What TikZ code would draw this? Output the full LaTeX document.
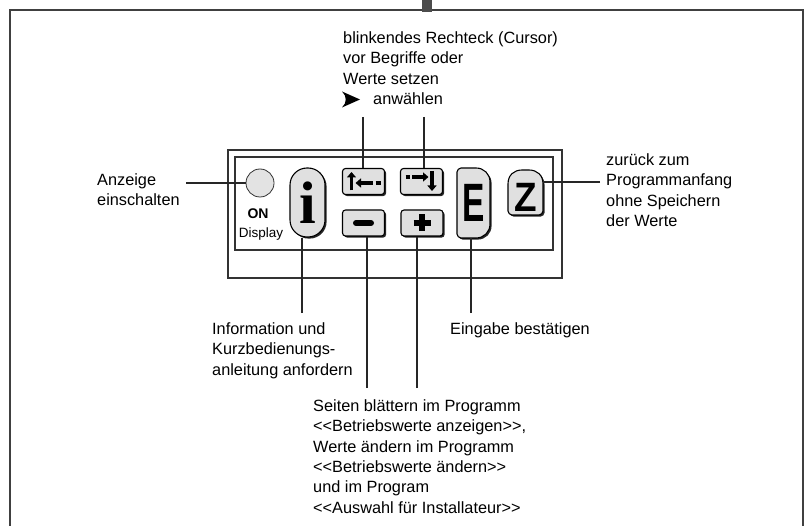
\documentclass[tikz,border=0pt]{standalone}
\usepackage{fontspec}
\setmainfont{Liberation Sans}
\newfontfamily\keyserif{Liberation Serif}
\usetikzlibrary{shadows,arrows.meta}
\newcommand\dlt{<\kern0pt<}
\newcommand\dgt{>\kern0pt>}
\begin{document}
\begin{tikzpicture}[x=1pt,y=-1pt,
  txt/.style={anchor=north west, inner sep=0pt, align=left,
    font=\fontsize{16.3}{20.3}\selectfont},
  lead/.style={line width=1.3pt, black!85},
  keyshade/.style={drop shadow={shadow xshift=1.6pt, shadow yshift=-1.6pt,
    fill=black!85, opacity=1}},
  key/.style={draw=black, line width=1.1pt, fill=gray!24, keyshade},
  rkey/.style={key, rounded corners=3pt, minimum width=42pt,
    minimum height=26pt, inner sep=0pt},
  sym/.style={line width=3.2pt, black},
  symtip/.style={-{Triangle[length=5.5pt,width=9pt]}}]
\useasboundingbox (0,0) rectangle (805,526);

% outer sheet frame and the dark tab on top
\draw[line width=1.6pt, black!75] (10,526) -- (10,10) -- (803,10) -- (803,526);
\fill[black!70] (422,0) rectangle (432,12);

% control panel
\draw[line width=1.5pt, black!80] (228,150) rectangle (562,278);
\draw[line width=1.2pt, black!80] (235,157) rectangle (553,250);

% leader lines (drawn first, keys sit on top)
\coordinate (anzR) at (186,183);
\coordinate (cur1) at (363,117);
\coordinate (cur2) at (424,117);
\coordinate (infoT) at (302,313);
\coordinate (seiM) at (367,388);
\coordinate (seiP) at (417,388);
\coordinate (eT) at (471,313);
\coordinate (zR) at (600,182);

% display switch
\node[circle, draw=black!80, line width=0.8pt, fill=gray!22,
  minimum size=28pt, inner sep=0pt] (onkey) at (260,183) {};
\node[font=\bfseries\fontsize{14}{14}\selectfont] (ontxt) at (258,214) {ON};
\node[font=\fontsize{13.5}{14}\selectfont] (disptxt) at (261,234) {Display};

% keys
\node[key, rounded corners=17pt, minimum width=35pt, minimum height=69pt,
  inner sep=0pt] (ikey) at (307.5,202.5)
  {\keyserif\bfseries\fontsize{60}{60}\selectfont i};
\node[rkey] (bleft) at (363.5,181.5) {};
\node[rkey] (bright) at (421.5,181.5) {};
\node[rkey] (bminus) at (363.5,223) {};
\node[rkey] (bplus) at (422,223) {};

% E key: square left side, round right side
\path[key] (461,168) -- (476,168) .. controls (484,168) and (490,174) .. (490,182)
  -- (490,224) .. controls (490,232) and (484,238) .. (476,238) -- (461,238)
  .. controls (459,238) and (457,236) .. (457,234) -- (457,172)
  .. controls (457,170) and (459,168) .. (461,168) -- cycle;
\node[inner sep=0pt, minimum width=33pt, minimum height=70pt] (ekey)
  at (473.5,203) {\scalebox{0.62}[1]{\bfseries\fontsize{54}{54}\selectfont E}};

% Z key: arched top
\path[key] (508,211) -- (508,184) .. controls (508,175) and (514,170) .. (522,170)
  -- (529,170) .. controls (537,170) and (543,175) .. (543,184) -- (543,211)
  .. controls (543,213) and (541,215) .. (539,215) -- (512,215)
  .. controls (510,215) and (508,213) .. (508,211) -- cycle;
\node[inner sep=0pt, minimum width=35pt, minimum height=35pt] (zkey)
  at (525.5,197.5) {\scalebox{0.9}[1]{\bfseries\fontsize{41}{41}\selectfont Z}};

% key symbols
\draw[sym, symtip] (351.5,190.5) -- (351.5,172);
\draw[sym, symtip] (373,183) -- (355.5,183);
\draw[sym] (375.5,183) -- (380.5,183);
\draw[sym] (405.5,177) -- (410,177);
\draw[sym, symtip] (412,177) -- (428.5,177);
\draw[sym, symtip] (432,171) -- (432,191);
\draw[line width=6pt, line cap=round] (356,223) -- (371,223);
\draw[line width=5.5pt] (413.5,223) -- (430.5,223) (422,214.5) -- (422,231.5);

% labels
\node[txt] (tcur) at (343,31.5) {blinkendes Rechteck (Cursor)\\vor Begriffe oder\\
  Werte setzen\\\hspace*{30pt}anwählen};
\fill (342,91.5) -- (360,99.5) -- (342,107.5) .. controls (347,103) and (347,96) .. (342,91.5) -- cycle;
\node[txt] (tanz) at (97,173.5) {Anzeige\\einschalten};
\node[txt] (tz) at (606,153.5) {zurück zum\\Programmanfang\\ohne Speichern\\der Werte};
\node[txt] (tinfo) at (212,322.5) {Information und\\Kurzbedienungs-\\anleitung anfordern};
\node[txt] (teing) at (450,322.5) {Eingabe bestätigen};
\node[txt] (tseit) at (313,399.5) {Seiten blättern im Programm\\
  \dlt Betriebswerte anzeigen\dgt,\\Werte ändern im Programm\\
  \dlt Betriebswerte ändern\dgt\\und im Program\\
  \dlt Auswahl für Installateur\dgt};

% leader lines
\draw[lead] (anzR) -- (onkey.west);
\draw[lead] (cur1) -- (cur1 |- bleft.north);
\draw[lead] (cur2) -- (cur2 |- bright.north);
\draw[lead] (infoT) -- (infoT |- ikey.south);
\draw[lead] (seiM) -- (seiM |- bminus.south);
\draw[lead] (seiP) -- (seiP |- bplus.south);
\draw[lead] (eT) -- (eT |- ekey.south);
\draw[lead] (zR) -- (zR -| zkey.east);
\end{tikzpicture}
\end{document}
